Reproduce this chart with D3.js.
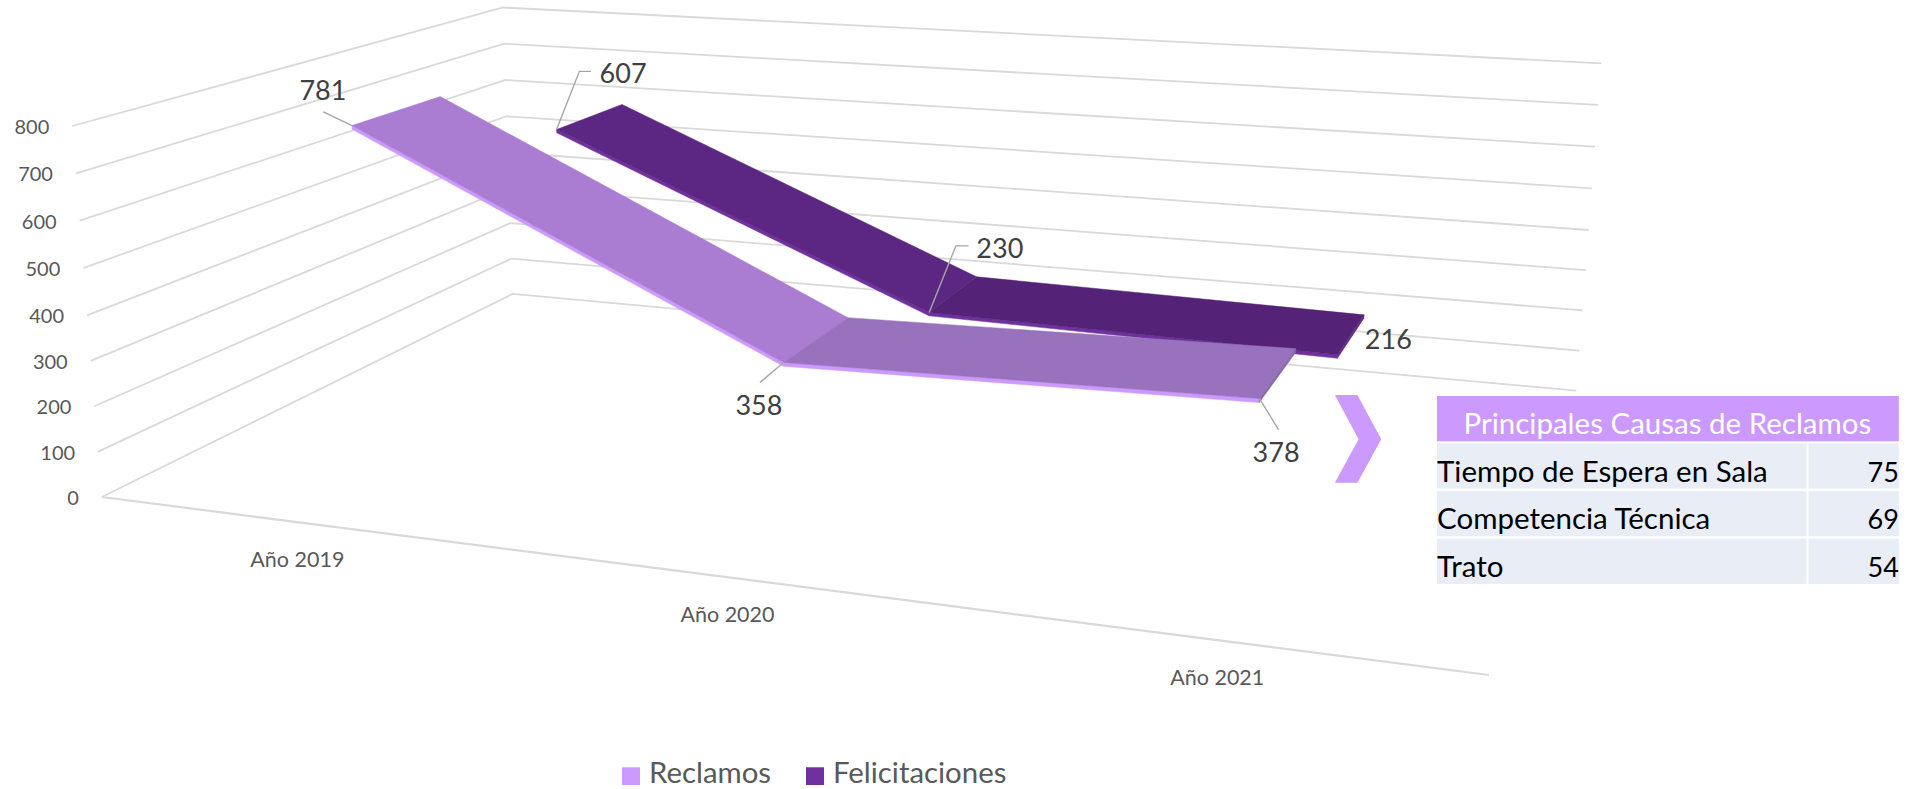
<!DOCTYPE html>
<html lang="es">
<head>
<meta charset="utf-8">
<title>Reclamos y Felicitaciones</title>
<script src="https://cdn.jsdelivr.net/npm/d3@7"></script>
<style>
  html, body { margin: 0; padding: 0; background: #fff; overflow: hidden; }
  svg { display: block; font-family: Lato, "Open Sans", sans-serif; }
</style>
</head>
<body>
<svg id="chart" width="1921" height="789"></svg>
<script>
// datos
const categories = ['Año 2019', 'Año 2020', 'Año 2021'];
const reclamos = [781, 358, 378];
const felicitaciones = [607, 230, 216];
const yTicks = [0, 100, 200, 300, 400, 500, 600, 700, 800];
const causas = ['Tiempo de Espera en Sala', 'Competencia Técnica', 'Trato'];
const causasValores = [75, 69, 54];

const svg = d3.select('#chart');

// esquinas de la caja 3D en pantalla: cada esquina es una escala valor -> pixel
const levels = [0, 400, 800];
const corner = (xs, ys) => ({
  x: d3.scaleLinear().domain(levels).range(xs),
  y: d3.scaleLinear().domain(levels).range(ys)
});
const cornerA = corner([101.8, 87, 72.3], [497, 315.4, 126]);     // frente izquierda
const cornerD = corner([1489, 1505, 1522], [675, 457, 230]);      // frente derecha
const cornerC = corner([1576.3, 1588.8, 1601.3], [390.7, 230, 63.3]); // fondo derecha
const cornerB = corner([512.5, 507.8, 503], [293.9, 152.5, 7.5]); // fondo izquierda

// categorias en el eje u (0..1), profundidad en w (0..1)
const uScale = d3.scalePoint().domain(categories).range([0, 1]).padding(0.5);

// perspectiva: cuadrado unitario -> cuadrilatero de cada nivel
function project(u, w, v) {
  const A = [cornerA.x(v), cornerA.y(v)];
  const D = [cornerD.x(v), cornerD.y(v)];
  const C = [cornerC.x(v), cornerC.y(v)];
  const B = [cornerB.x(v), cornerB.y(v)];
  const dx1 = D[0] - C[0], dx2 = B[0] - C[0], sx = A[0] - D[0] + C[0] - B[0];
  const dy1 = D[1] - C[1], dy2 = B[1] - C[1], sy = A[1] - D[1] + C[1] - B[1];
  const den = dx1 * dy2 - dx2 * dy1;
  const g = (sx * dy2 - dx2 * sy) / den;
  const h = (dx1 * sy - sx * dy1) / den;
  const q = g * u + h * w + 1;
  return [
    ((D[0] - A[0] + g * D[0]) * u + (B[0] - A[0] + h * B[0]) * w + A[0]) / q,
    ((D[1] - A[1] + g * D[1]) * u + (B[1] - A[1] + h * B[1]) * w + A[1]) / q
  ];
}

const line = d3.line();
const gridColor = '#D9D9D9';

// lineas de la grilla
svg.append('g').selectAll('path')
  .data(yTicks)
  .join('path')
  .attr('d', (t) => line([
    [cornerA.x(t), cornerA.y(t)],
    [cornerB.x(t), cornerB.y(t)],
    [cornerC.x(t), cornerC.y(t)]
  ]))
  .attr('fill', 'none')
  .attr('stroke', gridColor)
  .attr('stroke-width', 1.8);

// borde del piso
svg.append('path')
  .attr('d', line([[cornerA.x(0), cornerA.y(0)], [cornerD.x(0), cornerD.y(0)]]))
  .attr('stroke', gridColor)
  .attr('stroke-width', 2.2);

// etiquetas eje de valores
svg.append('g').selectAll('text')
  .data(yTicks)
  .join('text')
  .attr('x', (t) => cornerA.x(t) - 23)
  .attr('y', (t) => cornerA.y(t) + 8)
  .attr('text-anchor', 'end')
  .attr('font-size', 20)
  .attr('fill', '#595959')
  .text((t) => t);

// etiquetas de categoria
svg.append('g').selectAll('text')
  .data(categories)
  .join('text')
  .attr('x', (c) => project(uScale(c), 0, 0)[0] - 0.5)
  .attr('y', (c) => project(uScale(c), 0, 0)[1] + 45)
  .attr('text-anchor', 'middle')
  .attr('font-size', 21.5)
  .attr('fill', '#595959')
  .text((c) => c);

// cinta 3D de una serie
function drawRibbon(values, wFront, wBack, colors) {
  const g = svg.append('g');
  const thick = 8; // grosor de la cinta en unidades del eje
  const poly = (pts, fill) => g.append('path')
    .attr('d', line(pts) + 'Z')
    .attr('fill', fill)
    .attr('stroke', fill)
    .attr('stroke-width', 0.5);

  values.slice(0, -1).forEach((v, i) => {
    const u0 = uScale(categories[i]);
    const u1 = uScale(categories[i + 1]);
    const v1 = values[i + 1];
    poly([project(u0, wFront, v), project(u1, wFront, v1), project(u1, wFront, v1 - thick), project(u0, wFront, v - thick)], colors.side);
    poly([project(u0, wFront, v), project(u1, wFront, v1), project(u1, wBack, v1), project(u0, wBack, v)], colors.top[i]);
  });

  // tapa final de la cinta
  const uLast = uScale(categories[categories.length - 1]);
  const vLast = values[values.length - 1];
  poly([project(uLast, wFront, vLast), project(uLast, wBack, vLast), project(uLast, wBack, vLast - thick), project(uLast, wFront, vLast - thick)], colors.cap);
}

drawRibbon(felicitaciones, 0.65, 0.85, { top: ['#5C2782', '#542277'], side: '#7030A0', cap: '#5F2A8A' });
drawRibbon(reclamos, 0.15, 0.35, { top: ['#AA7DD3', '#9872BC'], side: '#CC99FF', cap: '#8A68AB' });

// etiquetas de datos con su linea guia (desplazamientos en pixeles desde el punto)
const reclamosLabels = [
  { dx: -29, dy: -25.7, guide: [[-28.5, -13.6]] },
  { dx: -24.7, dy: 52.7, guide: [[-23.7, 20]] },
  { dx: 16.6, dy: 63, guide: [[19.2, 31.3]] }
];
const felicitacionesLabels = [
  { dx: 66.5, dy: -46.7, guide: [[22.8, -58.2], [34.4, -58.2]] },
  { dx: 70.7, dy: -54.7, guide: [[26.8, -66.7], [39.3, -66.7]] },
  { dx: 50.7, dy: -5.4, guide: [] }
];

function drawLabels(values, wFront, layout) {
  const g = svg.append('g');
  values.forEach((v, i) => {
    const [px, py] = project(uScale(categories[i]), wFront, v);
    const o = layout[i];
    if (o.guide.length) {
      g.append('path')
        .attr('d', line([[px, py]].concat(o.guide.map((d) => [px + d[0], py + d[1]]))))
        .attr('fill', 'none')
        .attr('stroke', '#A6A6A6')
        .attr('stroke-width', 1.4);
    }
    g.append('text')
      .attr('x', px + o.dx)
      .attr('y', py + o.dy)
      .attr('text-anchor', 'middle')
      .attr('font-size', 27)
      .attr('fill', '#404040')
      .text(v);
  });
}
drawLabels(felicitaciones, 0.65, felicitacionesLabels);
drawLabels(reclamos, 0.15, reclamosLabels);

// flecha hacia la tabla
svg.append('path')
  .attr('d', line([[1334.9, 395], [1357.4, 395], [1381.2, 439.3], [1357.4, 482.7], [1334.9, 482.7], [1358.6, 439.3]]) + 'Z')
  .attr('fill', '#CC99FF');

// tabla de causas
const table = svg.append('g');
const rowTops = [443.3, 491, 538.7];
const rowH = 45.2;
const tableLeft = 1437;
const tableRight = 1898.8;
const colSplit = 1806.5;

table.append('rect')
  .attr('x', tableLeft).attr('y', 396)
  .attr('width', tableRight - tableLeft).attr('height', 45.3)
  .attr('fill', '#CC99FF');
table.append('text')
  .attr('x', (tableLeft + tableRight) / 2 - 0.5).attr('y', 434)
  .attr('text-anchor', 'middle')
  .attr('font-size', 29.5)
  .attr('fill', '#fff')
  .text('Principales Causas de Reclamos');

causas.forEach((c, i) => {
  table.append('rect')
    .attr('x', tableLeft).attr('y', rowTops[i])
    .attr('width', colSplit - tableLeft).attr('height', rowH)
    .attr('fill', '#E9EDF6');
  table.append('rect')
    .attr('x', colSplit + 2).attr('y', rowTops[i])
    .attr('width', tableRight - colSplit - 2).attr('height', rowH)
    .attr('fill', '#E9EDF6');
  table.append('text')
    .attr('x', tableLeft).attr('y', rowTops[i] + 38.3)
    .attr('font-size', 29.5)
    .attr('fill', '#000')
    .text(c);
  table.append('text')
    .attr('x', tableRight).attr('y', rowTops[i] + 38.3)
    .attr('text-anchor', 'end')
    .attr('font-size', 27)
    .attr('fill', '#000')
    .text(causasValores[i]);
});

// leyenda: la linea base queda arriba para que el texto no se corte abajo
const legend = svg.append('g');
[['Reclamos', '#CC99FF', 622, 122], ['Felicitaciones', '#7030A0', 806, 173.4]].forEach(([name, color, x, len]) => {
  legend.append('rect')
    .attr('x', x).attr('y', 767.3)
    .attr('width', 18).attr('height', 17.7)
    .attr('fill', color);
  legend.append('text')
    .attr('x', x + 27).attr('y', 782.5)
    .attr('font-size', 28)
    .attr('textLength', len)
    .attr('lengthAdjust', 'spacingAndGlyphs')
    .attr('fill', '#595959')
    .text(name);
});
</script>
</body>
</html>
